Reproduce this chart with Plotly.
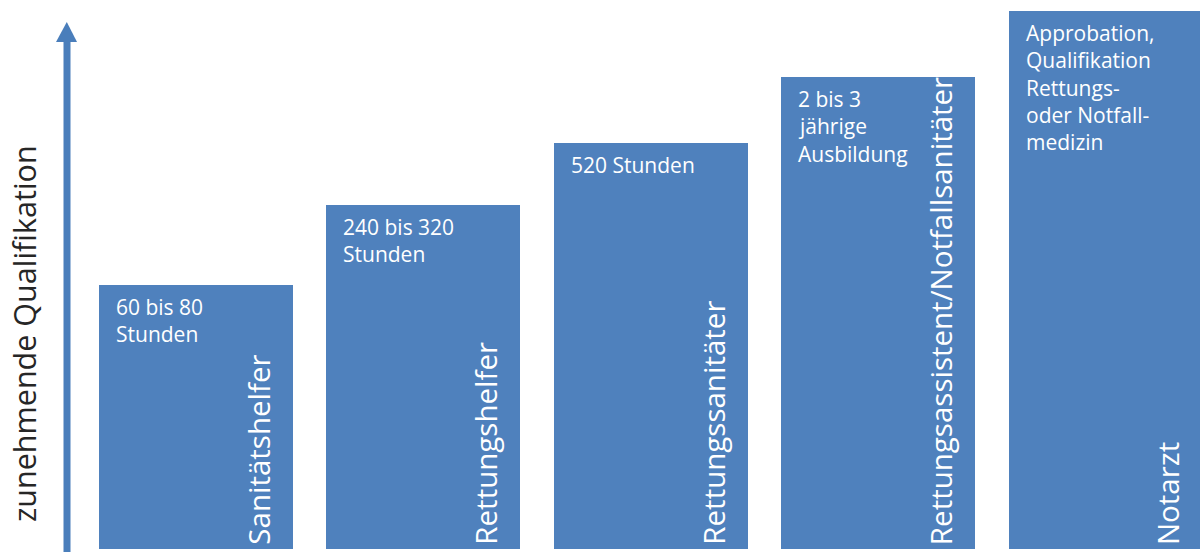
import plotly.graph_objects as go

categories = ["Sanitätshelfer", "Rettungshelfer", "Rettungssanitäter",
              "Rettungsassistent/Notfallsanitäter", "Notarzt"]
levels = [264, 344, 406, 472, 538]
notes = [
    ["60 bis 80", "Stunden"],
    ["240 bis 320", "Stunden"],
    ["520 Stunden"],
    ["2 bis 3", "jährige", "Ausbildung"],
    ["Approbation,", "Qualifikation", "Rettungs-", "oder Notfall-", "medizin"],
]
axis_label = "zunehmende Qualifikation"

BAR_COLOR = "#4F81BD"
ARROW_COLOR = "#4A7EBB"
FONT = "Open Sans"
W = 0.853
PITCH = 227.5
H_PLOT = 549.0
HALF_PX = W / 2 * PITCH

xs = list(range(len(categories)))

fig = go.Figure()
fig.add_trace(go.Bar(
    x=xs, y=levels, width=W, marker=dict(color=BAR_COLOR, line=dict(width=0)),
    hoverinfo="skip", showlegend=False,
))

annotations = []
for i, (cat, lv, lines) in enumerate(zip(categories, levels, notes)):
    annotations.append(dict(
        x=i, y=0, xref="x", yref="y", text=cat, showarrow=False,
        textangle=-90, xanchor="center", yanchor="bottom",
        xshift=HALF_PX - 35, yshift=2,
        font=dict(family=FONT, size=29.5, color="white"),
    ))
    for k, line in enumerate(lines):
        annotations.append(dict(
            x=i, y=lv, xref="x", yref="y", text=line, showarrow=False,
            xanchor="left", yanchor="top", xshift=-HALF_PX + 15, yshift=-6 - 27.3 * k,
            font=dict(family=FONT, size=21, color="white"),
        ))

annotations.append(dict(
    x=24 / 1200, y=(H_PLOT - 334) / H_PLOT, xref="paper", yref="paper",
    text=axis_label, showarrow=False, textangle=-90,
    xanchor="center", yanchor="middle",
    font=dict(family=FONT, size=30.5, color="#262626"),
))

def px(xp):
    return xp / 1200.0

def py(yp):
    return (H_PLOT - yp) / H_PLOT

shapes = [
    dict(type="rect", xref="paper", yref="paper",
         x0=px(63.5), x1=px(70.5), y0=py(560), y1=py(41),
         fillcolor=ARROW_COLOR, line=dict(width=0)),
    dict(type="path", xref="paper", yref="paper",
         path=f"M {px(56)} {py(42)} L {px(77)} {py(42)} L {px(66.8)} {py(22)} Z",
         fillcolor=ARROW_COLOR, line=dict(width=0)),
]

fig.update_layout(
    width=1200, height=552,
    margin=dict(l=0, r=0, t=0, b=3, pad=0),
    paper_bgcolor="white", plot_bgcolor="white",
    xaxis=dict(range=[-0.860, 4.415], visible=False, fixedrange=True),
    yaxis=dict(range=[0, H_PLOT], visible=False, fixedrange=True),
    annotations=annotations, shapes=shapes,
    bargap=0,
)

fig.write_html(
    "out.html",
    config={"displayModeBar": False},
    post_script="document.body.style.margin='0';document.body.style.overflow='hidden';",
)
